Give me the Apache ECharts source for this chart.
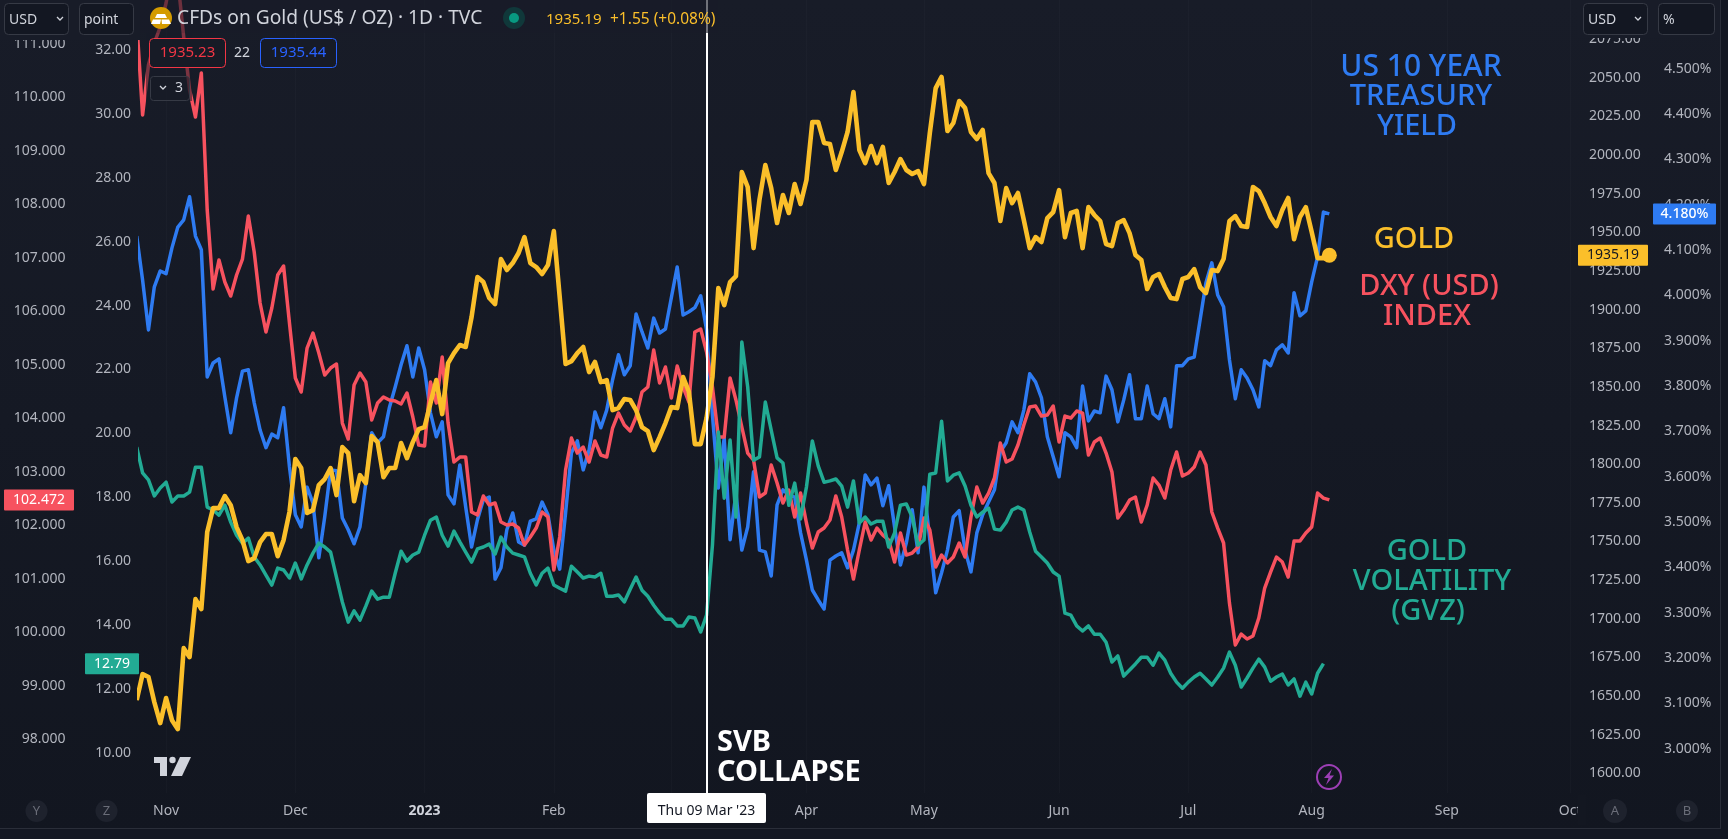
<!DOCTYPE html>
<html>
<head>
<meta charset="utf-8">
<title>Gold vs DXY, US10Y, GVZ</title>
<style>
html, body { margin: 0; padding: 0; background: #131722; overflow: hidden; }
#chart { width: 1728px; height: 839px; }
</style>
<script src="https://cdn.jsdelivr.net/npm/echarts@6/dist/echarts.min.js"></script>
</head>
<body>
<div id="chart"></div>
<script>
"use strict"
// daily closes, bar 0 sits just left of the visible pane
var goldValues = [1647.4,1664.2,1662.3,1646.1,1632.5,1648.7,1634.4,1628.6,1681.0,1675.2,1712.7,1706.3,1756.1,1771.6,1771.6,1779.4,1773.5,1759.3,1750.9,1737.3,
1739.2,1749.6,1754.8,1754.8,1740.5,1750.9,1769.0,1803.3,1797.5,1768.4,1770.3,1786.5,1790.4,1797.5,1780.0,1811.1,1807.2,1776.1,1792.9,1787.8,
1818.2,1814.3,1791.6,1797.5,1797.5,1813.7,1803.9,1814.3,1822.7,1824.0,1839.5,1854.4,1832.4,1865.4,1871.9,1877.1,1875.8,1895.2,1921.1,1917.8,
1907.5,1903.6,1932.7,1925.6,1930.1,1936.6,1946.9,1930.1,1927.5,1923.0,1928.8,1950.8,1908.1,1864.8,1866.7,1871.9,1875.8,1859.6,1866.1,1853.1,
1854.4,1835.0,1836.3,1842.1,1841.5,1835.0,1824.0,1821.4,1809.1,1817.5,1826.6,1836.9,1836.3,1856.4,1846.6,1813.0,1813.0,1829.8,1856.4,1913.9,
1902.9,1917.8,1921.7,1989.0,1979.3,1939.8,1970.9,1993.5,1978.6,1956.0,1974.1,1962.5,1981.2,1968.3,1983.8,2021.3,2021.3,2007.8,2007.1,1990.3,
2001.9,2014.9,2040.7,2003.2,1994.8,2005.8,1994.8,2005.2,1981.9,1989.0,1997.4,1990.3,1987.7,1989.6,1981.2,2014.2,2043.3,2050.5,2015.5,2020.7,
2034.9,2030.4,2014.9,2010.3,2016.2,1988.3,1981.9,1957.3,1978.6,1968.9,1975.4,1957.9,1939.8,1946.9,1943.7,1959.2,1963.1,1977.3,1946.9,1962.5,
1963.8,1939.8,1966.3,1961.2,1957.3,1942.4,1941.1,1956.0,1957.9,1949.5,1935.3,1932.1,1913.3,1921.1,1923.0,1914.6,1907.5,1906.8,1919.8,1921.1,
1926.2,1914.6,1910.7,1925.6,1924.9,1932.7,1957.3,1960.5,1954.1,1953.4,1979.3,1976.7,1968.9,1959.9,1954.1,1964.4,1972.2,1945.6,1959.9,1966.3,
1950.2,1933.3,1933.3,1935.19];
var dxyValues = [111.43,109.672,110.607,111.019,111.318,111.767,112.384,112.197,111.131,110.140,109.634,110.458,107.895,106.417,106.960,106.548,106.286,106.679,106.978,107.783,
107.109,106.155,105.613,106.062,106.679,106.847,105.781,104.752,104.490,105.313,105.594,105.220,104.808,104.939,105.014,103.910,103.611,104.621,104.846,104.677,
103.967,104.285,104.397,104.341,104.322,104.266,104.472,104.023,103.499,103.480,104.677,104.285,105.145,103.910,103.181,103.274,103.274,102.246,102.189,102.545,
102.377,102.414,102.059,102.002,102.021,101.946,101.628,101.778,101.946,102.246,102.152,101.161,101.778,103.031,103.630,103.349,103.461,103.181,103.574,103.312,
103.274,103.817,104.097,103.873,103.761,104.023,104.490,104.584,105.276,104.659,104.958,104.378,104.977,104.584,104.303,105.613,105.669,105.238,104.584,103.648,
103.648,104.752,104.341,103.836,103.349,103.218,102.526,102.601,103.125,102.788,102.414,102.657,102.152,102.601,102.040,101.572,101.871,101.946,102.096,102.545,
102.152,101.535,100.992,101.535,102.059,101.722,101.946,101.815,101.722,101.310,101.853,101.441,101.479,101.591,102.133,101.909,101.217,101.441,101.292,101.404,
101.666,101.404,102.152,102.713,102.414,102.601,102.882,103.536,103.181,103.237,103.499,103.873,104.210,104.228,104.041,104.060,104.228,103.555,104.041,104.004,
104.135,104.097,103.312,103.555,103.630,103.349,102.994,102.133,102.283,102.470,102.526,102.059,102.377,102.882,102.751,102.507,103.031,103.368,102.919,102.975,
103.087,103.368,103.125,102.246,101.946,101.666,100.543,99.758,99.963,99.870,99.926,100.263,100.824,101.123,101.404,101.310,101.030,101.703,101.703,101.853,
101.965,102.601,102.507,102.472];
var yieldValues = [4.131,4.034,3.924,4.019,4.054,4.048,4.105,4.151,4.167,4.218,4.131,4.101,3.820,3.851,3.860,3.776,3.697,3.774,3.833,3.836,
3.763,3.703,3.664,3.694,3.686,3.752,3.622,3.516,3.489,3.577,3.542,3.421,3.511,3.615,3.613,3.509,3.483,3.452,3.489,3.586,
3.697,3.675,3.688,3.752,3.798,3.847,3.889,3.820,3.884,3.836,3.741,3.688,3.721,3.560,3.540,3.626,3.533,3.445,3.505,3.549,
3.555,3.374,3.399,3.483,3.520,3.456,3.449,3.502,3.507,3.544,3.516,3.438,3.396,3.520,3.653,3.679,3.615,3.659,3.743,3.708,
3.747,3.814,3.869,3.825,3.845,3.959,3.920,3.884,3.950,3.917,3.926,3.995,4.063,3.957,3.964,3.973,3.999,3.924,3.736,3.575,
3.686,3.461,3.564,3.438,3.489,3.611,3.438,3.434,3.381,3.538,3.571,3.560,3.555,3.476,3.416,3.350,3.328,3.308,3.416,3.425,
3.432,3.399,3.438,3.498,3.604,3.582,3.597,3.536,3.580,3.489,3.405,3.454,3.527,3.432,3.577,3.461,3.344,3.388,3.438,3.511,
3.525,3.438,3.390,3.476,3.516,3.544,3.571,3.655,3.675,3.721,3.697,3.747,3.827,3.809,3.774,3.688,3.644,3.600,3.697,3.688,
3.664,3.800,3.723,3.745,3.741,3.822,3.792,3.721,3.769,3.825,3.728,3.728,3.800,3.739,3.728,3.772,3.710,3.845,3.845,3.860,
3.864,3.946,4.028,4.072,4.001,3.975,3.858,3.772,3.836,3.818,3.792,3.754,3.856,3.845,3.880,3.891,3.873,4.006,3.955,3.966,
4.030,4.085,4.184,4.180];
var gvzValues = [19.57,18.76,18.54,18.04,18.29,18.47,17.85,18.04,18.04,18.16,18.94,18.94,17.69,17.60,17.44,17.75,17.22,16.81,16.56,16.72,
16.13,15.88,15.56,15.25,15.78,15.72,15.47,15.94,15.44,15.88,16.25,16.56,16.44,16.28,15.50,14.72,14.09,14.44,14.15,14.59,
15.06,14.81,14.87,14.87,15.62,16.31,16.00,16.19,16.28,16.81,17.28,17.38,16.81,16.47,16.94,16.60,16.28,15.97,16.38,16.44,
16.53,16.22,16.75,16.44,16.25,16.19,16.13,15.62,15.25,15.62,15.78,15.25,15.15,15.06,15.84,15.66,15.47,15.53,15.50,15.62,
14.90,14.90,14.94,14.72,15.12,15.50,15.09,14.90,14.62,14.37,14.18,14.18,13.97,13.97,14.25,14.22,13.78,14.31,16.50,20.04,
17.97,19.79,17.38,22.86,21.45,19.16,19.26,20.98,20.10,19.23,19.07,17.75,18.44,17.32,18.32,19.76,18.98,18.47,18.51,18.57,
18.35,17.69,18.51,17.19,17.38,17.16,17.25,17.25,16.44,16.88,17.75,17.79,17.38,16.50,16.66,18.72,18.76,20.38,18.51,18.69,
18.76,18.35,17.75,17.38,17.53,17.66,17.00,16.97,17.22,17.60,17.69,17.60,16.91,16.31,16.13,15.94,15.66,15.53,14.37,14.31,
13.97,13.81,13.97,13.71,13.71,13.46,12.84,13.03,12.40,12.59,12.78,12.99,12.99,12.74,13.12,12.90,12.49,12.21,12.02,12.21,
12.37,12.49,12.31,12.12,12.37,12.65,13.15,12.74,12.06,12.34,12.65,12.93,12.68,12.24,12.37,12.46,12.12,12.31,11.77,12.21,
11.84,12.49,12.79];

var monthLabels = ["Nov","Dec","2023","Feb","Mar","Apr","May","Jun","Jul","Aug","Sep","Oct"];
var monthBars = [5,27,49,71,91,114,134,157,179,200,223,244];
var svbBar = 97;

var dxyTicks = [98,99,100,101,102,103,104,105,106,107,108,109,110,111];
var gvzTicks = [10,12,14,16,18,20,22,24,26,28,30,32];
var goldTicks = [1600,1625,1650,1675,1700,1725,1750,1775,1800,1825,1850,1875,1900,1925,1950,1975,2000,2025,2050,2075];
var yieldTicks = [3.0,3.1,3.2,3.3,3.4,3.5,3.6,3.7,3.8,3.9,4.0,4.1,4.2,4.3,4.4,4.5];

var BLUE = "#2e7bf2", RED = "#f7525f", GREEN = "#22ab94", GOLD = "#fbbf2a";
var AXIS_TEXT = "#b2b5be";
var FONT = "'Noto Sans', sans-serif";

function pairs(values) {
    var res = [];
    for (var i = 0; i < values.length; i++) {
        res.push([i, values[i]]);
    }
    return res;
}

function yAxis(position, offset, min, max, ticks, digits, suffix) {
    return {
        type: "value",
        position: position,
        offset: offset,
        min: min,
        max: max,
        axisLine: { show: false },
        axisTick: { show: false, customValues: ticks },
        splitLine: { show: false },
        axisLabel: {
            customValues: ticks,
            margin: 9,
            color: AXIS_TEXT,
            fontFamily: FONT,
            fontSize: 14,
            formatter: function (v) { return v.toFixed(digits) + suffix; }
        }
    };
}

function line(name, values, yIndex, color, width) {
    return {
        name: name,
        type: "line",
        xAxisIndex: 0,
        yAxisIndex: yIndex,
        data: pairs(values),
        showSymbol: false,
        animation: false,
        silent: true,
        lineStyle: { color: color, width: width, join: "round" }
    };
}

var series = [
    line("US10Y", yieldValues, 2, BLUE, 3.5),
    line("DXY", dxyValues, 0, RED, 3.5),
    line("GVZ", gvzValues, 1, GREEN, 3.5),
    line("GOLD", goldValues, 3, GOLD, 4.6)
];
series[0].markLine = {
    silent: true,
    animation: false,
    symbol: "none",
    label: { show: false },
    lineStyle: { color: "#ffffff", width: 2, type: "solid" },
    data: [{ xAxis: svbBar }]
};
series[3].markPoint = {
    silent: true,
    animation: false,
    symbol: "circle",
    symbolSize: 15,
    itemStyle: { color: GOLD },
    label: { show: false },
    data: [{ coord: [goldValues.length - 1, goldValues[goldValues.length - 1]] }]
};

var option = {
    animation: false,
    backgroundColor: {
        type: "linear", x: 0, y: 0, x2: 0, y2: 1,
        colorStops: [{ offset: 0, color: "#181c28" }, { offset: 1, color: "#121620" }]
    },
    grid: { left: 140, right: 148, top: 0, height: 793 },
    xAxis: {
        type: "value",
        min: 0.56,
        max: 245.67,
        axisLine: { show: false },
        axisTick: { show: false, customValues: monthBars },
        splitLine: { show: true, lineStyle: { color: "rgba(240,243,250,0.018)" } },
        axisLabel: {
            customValues: monthBars,
            margin: 11,
            color: AXIS_TEXT,
            fontFamily: FONT,
            fontSize: 14,
            formatter: function (v) {
                var label = monthLabels[monthBars.indexOf(v)];
                return label === "2023" ? "{year|2023}" : label;
            },
            rich: { year: { fontFamily: FONT, fontSize: 14, fontWeight: "bold", color: "#d1d4dc" } }
        }
    },
    yAxis: [
        yAxis("left", 65.5, 96.99, 111.823, dxyTicks, 3, ""),
        yAxis("left", 0, 8.74, 33.565, gvzTicks, 2, ""),
        yAxis("right", 75, 2.902, 4.652, yieldTicks, 3, "%"),
        yAxis("right", 0, 1587.3, 2100.27, goldTicks, 2, "")
    ],
    series: series
};

var chart = echarts.init(document.getElementById("chart"));
chart.setOption(option);

// ---- chrome of the trading screen, drawn over the chart ----
function txt(text, x, y, color, size, align, weight) {
    return {
        type: "text", z: 120,
        style: {
            text: text, x: x, y: y, fill: color,
            font: (weight || "normal") + " " + size + "px " + FONT,
            textAlign: align || "left", textVerticalAlign: "middle",
            align: align || "left", verticalAlign: "middle"
        }
    };
}
function box(x, y, w, h, fill, stroke, r, z) {
    return {
        type: "rect", z: z || 110,
        shape: { x: x, y: y, width: w, height: h, r: r || 0 },
        style: { fill: fill, stroke: stroke || null, lineWidth: stroke ? 1 : 0 }
    };
}
function circle(x, y, r, fill, stroke) {
    return {
        type: "circle", z: 110,
        shape: { cx: x, cy: y, r: r },
        style: { fill: fill, stroke: stroke || null, lineWidth: stroke ? 2 : 0 }
    };
}
function poly(points, fill) {
    return { type: "polygon", z: 115, shape: { points: points }, style: { fill: fill } };
}
function chevron(x, y, color) {
    return {
        type: "polyline", z: 120,
        shape: { points: [[x - 3, y - 2], [x, y + 1], [x + 3, y - 2]] },
        style: { stroke: color, lineWidth: 1.3, fill: null }
    };
}
// price tag on an axis, centred on the last value of its series
function tag(yIndex, value, x, w, fill, color, text, weight) {
    var y = chart.convertToPixel({ yAxisIndex: yIndex }, value);
    return [box(x, y - 10.5, w, 21, fill, null, 1, 112), txt(text, x + w / 2, y, color, 14, "center", weight)];
}

var BTN = "#363a45";
var els = [
    // masks for the top of the axis columns and the legend strip
    box(0, 0, 140, 40, "#181c28"),
    box(1578, 0, 150, 38, "#181c28"),
    box(140, 0, 578, 33, "rgba(24,28,40,0.62)", null, 0, 105),
    box(146, 33, 46, 68, "rgba(24,28,40,0.55)", null, 0, 105),
    // scale buttons
    box(4.5, 3.5, 64, 31, "#131722", BTN, 4),
    txt("USD", 9, 20, "#d1d4dc", 14),
    chevron(60, 19, "#d1d4dc"),
    box(79.5, 3.5, 54, 31, "#131722", BTN, 4),
    txt("point", 84, 20, "#d1d4dc", 14),
    box(1583.5, 3.5, 64, 31, "#131722", BTN, 4),
    txt("USD", 1588, 20, "#d1d4dc", 14),
    chevron(1638, 19, "#d1d4dc"),
    box(1658.5, 3.5, 56, 31, "#131722", BTN, 4),
    txt("%", 1663, 20, "#d1d4dc", 14),
    // legend
    circle(161, 18, 11, "#d49b00"),
    poly([[157, 14], [165, 14], [167, 18], [155, 18]], "#ffffff"),
    poly([[151, 24], [160, 24], [161, 19.5], [153, 19.5]], "#ffffff"),
    poly([[162, 24], [171, 24], [169, 19.5], [161.5, 19.5]], "#ffffff"),
    txt("CFDs on Gold (US$ / OZ) · 1D · TVC", 177, 19, "#d1d4dc", 19.2),
    circle(514, 18, 11, "#10383a"),
    circle(514, 18, 5, "#089981"),
    txt("1935.19", 546, 20, GOLD, 15),
    txt("+1.55 (+0.08%)", 610, 20, GOLD, 15.5),
    box(149.5, 38.5, 76, 29, "#171b26", "#f23645", 4),
    txt("1935.23", 187.5, 53, "#f23645", 15, "center"),
    txt("22", 242, 53, "#d1d4dc", 14, "center"),
    box(260.5, 38.5, 76, 29, "#171b26", "#2962ff", 4),
    txt("1935.44", 298.5, 53, "#2962ff", 15, "center"),
    box(150.5, 76.5, 39, 24, "rgba(23,27,38,0.55)", BTN, 3),
    chevron(163, 88, "#d1d4dc"),
    txt("3", 179, 88, "#d1d4dc", 14, "center"),
    // annotations
    txt("US 10 YEAR", 1421, 67, BLUE, 30, "center", 500),
    txt("TREASURY", 1421, 97, BLUE, 29, "center", 500),
    txt("YIELD", 1417, 127, BLUE, 29, "center", 500),
    txt("GOLD", 1414, 240, GOLD, 29, "center", 500),
    txt("DXY (USD)", 1429, 287, RED, 29, "center", 500),
    txt("INDEX", 1427, 317, RED, 29, "center", 500),
    txt("GOLD", 1427, 552, GREEN, 29, "center", 500),
    txt("VOLATILITY", 1432, 582, GREEN, 29, "center", 500),
    txt("(GVZ)", 1428, 612, GREEN, 29, "center", 500),
    txt("SVB", 717, 743, "#ffffff", 29, "left", "bold"),
    txt("COLLAPSE", 717, 773, "#ffffff", 29, "left", "bold"),
    // crosshair date
    box(647, 793, 119, 30, "#ffffff", null, 2),
    txt("Thu 09 Mar '23", 706.5, 811, "#131722", 14, "center"),
    // TradingView mark
    poly([[154, 757], [167, 757], [167, 776], [160, 776], [160, 763], [154, 763]], "#d1d4dc"),
    circle(172.5, 760, 3.2, "#d1d4dc"),
    poly([[180, 757], [191, 757], [182, 776], [171, 776]], "#d1d4dc"),
    // lightning badge
    circle(1329, 777, 12, "none", "#9c3fb5"),
    poly([[1332, 769], [1324, 778], [1328.5, 778], [1326, 785], [1334, 775.5], [1329.5, 775.5]], "#9c3fb5"),
    // axis mode circles
    circle(36.5, 811, 11, "#1e222d"), txt("Y", 36.5, 811, "#6a6d78", 13, "center"),
    circle(106.5, 811, 11, "#1e222d"), txt("Z", 106.5, 811, "#6a6d78", 13, "center"),
    circle(1615, 811, 12, "#1e222d"), txt("A", 1615, 811, "#6a6d78", 13, "center"),
    circle(1687, 811, 11, "#1e222d"), txt("B", 1687, 811, "#6a6d78", 13, "center"),
    // cut off the Oct label at the pane edge, frame lines
    box(1578, 795, 8, 30, "#131721"),
    box(0, 828, 1720, 1, "#2a2e39"),
    box(1720, 0, 1, 829, "#2a2e39"),
    box(1721, 0, 7, 839, "#131722"),
    box(0, 829, 1728, 10, "#131722")
];
els = els.concat(
    tag(0, dxyValues[dxyValues.length - 1], 4, 70, RED, "#ffffff", "102.472"),
    tag(1, gvzValues[gvzValues.length - 1], 85, 54, GREEN, "#ffffff", "12.79"),
    tag(3, goldValues[goldValues.length - 1], 1578, 70, GOLD, "#131722", "1935.19"),
    tag(2, yieldValues[yieldValues.length - 1], 1653, 63, BLUE, "#ffffff", "4.180%", 500)
);
chart.setOption({ graphic: { elements: els } });
</script>
</body>
</html>
